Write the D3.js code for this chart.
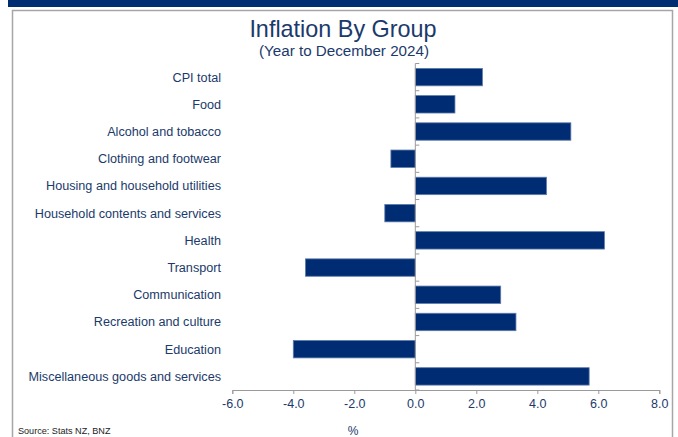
<!DOCTYPE html>
<html>
<head>
<meta charset="utf-8">
<script src="https://cdn.jsdelivr.net/npm/d3@7"></script>
<style>
  html, body { margin: 0; padding: 0; background: #fff; }
  svg { display: block; font-family: "Liberation Sans", Arial, sans-serif; }
</style>
</head>
<body>
<svg id="chart" width="678" height="437"></svg>
<script>
// CPI groups, annual % change
const categories = [
  "CPI total",
  "Food",
  "Alcohol and tobacco",
  "Clothing and footwear",
  "Housing and household utilities",
  "Household contents and services",
  "Health",
  "Transport",
  "Communication",
  "Recreation and culture",
  "Education",
  "Miscellaneous goods and services"
];
const values = [2.2, 1.3, 5.1, -0.8, 4.3, -1.0, 6.2, -3.6, 2.8, 3.3, -4.0, 5.7];
const xTicks = [-6, -4, -2, 0, 2, 4, 6, 8];

const navy = "#002C73";
const textNavy = "#1B3A6B";

const svg = d3.select("#chart");

// header band and frame
svg.append("rect").attr("x", 8).attr("y", 0).attr("width", 670).attr("height", 7).attr("fill", "#002D72");
svg.append("path")
  .attr("d", "M12.5,437 V10.5 H672.5 V437")
  .attr("fill", "none").attr("stroke", "#A6A6A6").attr("stroke-width", 1.5);

// titles
svg.append("text").attr("x", 343).attr("y", 37).attr("text-anchor", "middle")
  .attr("font-size", 23.4).attr("fill", textNavy).text("Inflation By Group");
svg.append("text").attr("x", 344).attr("y", 56).attr("text-anchor", "middle")
  .attr("font-size", 15.2).attr("fill", textNavy).text("(Year to December 2024)");

const x = d3.scaleLinear().domain([-6, 8]).range([232.3, 659.3]);
const y = d3.scaleBand().domain(categories).range([63.5, 390]).paddingInner(0.36).paddingOuter(0.18);

// bars
svg.append("g").selectAll("rect").data(values).join("rect")
  .attr("x", d => x(Math.min(0, d)))
  .attr("width", d => Math.abs(x(d) - x(0)))
  .attr("y", (d, i) => y(categories[i]))
  .attr("height", y.bandwidth())
  .attr("fill", navy)
  .attr("stroke", "#5E7BAA").attr("stroke-width", 0.8);

// x axis
const xAxis = svg.append("g").attr("transform", "translate(0,390)")
  .call(d3.axisBottom(x).tickValues(xTicks).tickFormat(d => d.toFixed(1)).tickSize(4).tickPadding(5));
xAxis.select(".domain").attr("stroke", "#9A9A9A");
xAxis.selectAll(".tick line").attr("stroke", "#9A9A9A");
xAxis.selectAll("text").attr("font-size", 12.5).attr("fill", textNavy)
  .attr("font-family", "'Liberation Sans', Arial, sans-serif");

// category axis at zero, ticks on band boundaries
const step = y.step();
const bounds = d3.range(categories.length + 1).map(i => 63.5 + i * step);
const yg = svg.append("g");
yg.append("line").attr("x1", x(0)).attr("x2", x(0)).attr("y1", 63.5).attr("y2", 390)
  .attr("stroke", "#9A9A9A");
yg.selectAll("line.tk").data(bounds).join("line").attr("class", "tk")
  .attr("x1", x(0)).attr("x2", x(0) + 4).attr("y1", d => d).attr("y2", d => d)
  .attr("stroke", "#9A9A9A");

// category labels
svg.append("g").selectAll("text").data(categories).join("text")
  .attr("x", 221).attr("y", d => y(d) + y.bandwidth() / 2)
  .attr("dy", "0.35em").attr("text-anchor", "end")
  .attr("font-size", 12.65).attr("fill", textNavy).text(d => d);

// axis unit and source
svg.append("text").attr("x", 353).attr("y", 434.5).attr("text-anchor", "middle")
  .attr("font-size", 12).attr("fill", textNavy).text("%");
svg.append("text").attr("x", 18).attr("y", 434)
  .attr("font-size", 9.1).attr("fill", "#222").text("Source: Stats NZ, BNZ");
</script>
</body>
</html>
